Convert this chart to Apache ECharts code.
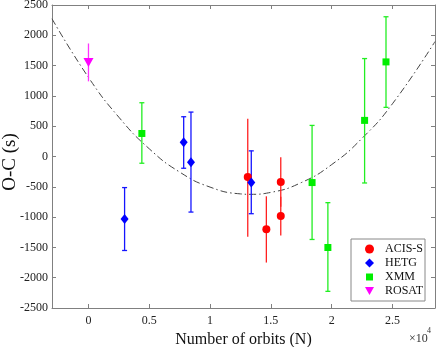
<!DOCTYPE html>
<html><head><meta charset="utf-8">
<script src="https://cdn.jsdelivr.net/npm/echarts@6/dist/echarts.min.js"></script>
<style>html,body{margin:0;padding:0;background:#fff}#c{width:436px;height:347px}</style>
</head><body><div id="c"></div>
<script>
// ---- data ----
const acisX  = [13100, 14630, 15815, 15815];
const acisY  = [-338, -1199, -420, -983];
const acisLo = [-1325, -1750, -828, -1303];
const acisHi = [622, -657, -12, -663];

const hetgX  = [2970, 7830, 8430, 13390];
const hetgY  = [-1033, 237, -94, -430];
const hetgLo = [-1551, -194, -917, -944];
const hetgHi = [-513, 656, 733, 93];

const xmmX  = [4390, 18390, 19690, 22710, 24470];
const xmmY  = [380, -430, -1502, 596, 1561];
const xmmLo = [-111, -1369, -2225, -437, 811];
const xmmHi = [887, 513, -762, 1616, 2306];

const rosatX  = [0];
const rosatY  = [1550];
const rosatLo = [1240];
const rosatHi = [1865];

// dash-dot fit curve
const fitX = [-3000, 0, 2500, 5000, 7500, 10000, 12500, 13300, 15000, 17500, 20000, 22500, 25000, 28500];
const fitY = [2273, 1305, 648, 127, -257, -505, -617, -624, -592, -431, -134, 300, 870, 1897];

const xTickValues = [0, 5000, 10000, 15000, 20000, 25000];
const xTickLabels = ['0', '0.5', '1', '1.5', '2', '2.5'];
const yTickLabels = ['-2500','-2000','-1500','-1000','-500','0','500','1000','1500','2000','2500'];

const FONT = 'Liberation Serif';
const AX = '#808080';

function zip(xs, ys){ return xs.map((x,i)=>[x, ys[i]]); }
function bars(xs, ys, lo, hi){ return xs.map((x,i)=>[x, ys[i], lo[i], hi[i]]); }

function errSeries(name, data, color, cap){
  return {
    type: 'custom', name: name + '_err', silent: true, z: 3,
    data: data,
    renderItem: function(params, api){
      const x = api.value(0), lo = api.value(2), hi = api.value(3);
      const p1 = api.coord([x, hi]), p2 = api.coord([x, lo]);
      const st = {stroke: color, lineWidth: 1.3};
      const ch = [{type:'line', shape:{x1:p1[0], y1:p1[1], x2:p2[0], y2:p2[1]}, style: st}];
      if (cap) {
        ch.push({type:'line', shape:{x1:p1[0]-cap, y1:p1[1], x2:p1[0]+cap, y2:p1[1]}, style: st});
        ch.push({type:'line', shape:{x1:p2[0]-cap, y1:p2[1], x2:p2[0]+cap, y2:p2[1]}, style: st});
      }
      return {type:'group', children: ch};
    }
  };
}

const invTri = 'path://M0,0 L10,0 L5,9 Z';

const chart = echarts.init(document.getElementById('c'), null, {renderer: 'canvas'});
const xBase = {
  type: 'value', min: -3000, max: 28500,
  axisLine: {show: true, onZero: false, lineStyle: {color: AX, width: 1}},
  splitLine: {show: false},
  axisTick: {show: true, inside: true, length: 4, lineStyle: {color: AX}, customValues: xTickValues},
};
const yBase = {
  type: 'value', min: -2500, max: 2500, interval: 500,
  axisLine: {show: true, onZero: false, lineStyle: {color: AX, width: 1}},
  splitLine: {show: false},
  axisTick: {show: true, inside: true, length: 4, lineStyle: {color: AX}},
};

chart.setOption({
  animation: false,
  backgroundColor: '#fff',
  textStyle: {fontFamily: FONT},
  grid: {left: 52, right: 1, top: 5, bottom: 39, containLabel: false, outerBoundsMode: 'none'},
  xAxis: [
    Object.assign({}, xBase, {
      position: 'bottom',
      axisLabel: {show: true, customValues: xTickValues, margin: 7, color: '#222', fontFamily: FONT, fontSize: 12,
        formatter: v => xTickLabels[xTickValues.indexOf(v)]},
      name: 'Number of orbits (N)', nameLocation: 'middle', nameGap: 20,
      nameTextStyle: {fontFamily: FONT, fontSize: 16, color: '#111'}
    }),
    Object.assign({}, xBase, {position: 'top', axisLabel: {show: false}})
  ],
  yAxis: [
    Object.assign({}, yBase, {
      position: 'left',
      axisLabel: {show: true, margin: 4, color: '#222', fontFamily: FONT, fontSize: 12,
        formatter: v => yTickLabels[Math.round((v + 2500) / 500)]}
    }),
    Object.assign({}, yBase, {position: 'right', axisLabel: {show: false}})
  ],
  legend: {
    show: true, orient: 'vertical', left: 351, top: 239,
    padding: [3, 2, 3, 14], itemGap: 0, itemWidth: 9, itemHeight: 9,
    borderColor: '#888', borderWidth: 1, backgroundColor: '#fff',
    textStyle: {fontFamily: FONT, fontSize: 12, color: '#111', lineHeight: 14, padding: [0,0,0,6]},
    data: [
      {name: 'ACIS-S', icon: 'circle'},
      {name: 'HETG', icon: 'diamond'},
      {name: 'XMM', icon: 'path://M0,0 M9,9 M1,1 L8,1 L8,8 L1,8 Z'},
      {name: 'ROSAT', icon: invTri}
    ]
  },
  series: [
    {type: 'line', name: 'fit', data: zip(fitX, fitY), smooth: true, showSymbol: false, symbol: 'none',
     lineStyle: {color: '#444', width: 1, type: [7, 3, 1.5, 3]}, z: 1, silent: true},
    errSeries('ACIS-S', bars(acisX, acisY, acisLo, acisHi), '#ff2020', 0),
    errSeries('HETG', bars(hetgX, hetgY, hetgLo, hetgHi), '#1515ff', 2.5),
    errSeries('XMM', bars(xmmX, xmmY, xmmLo, xmmHi), '#22ee22', 2.5),
    errSeries('ROSAT', bars(rosatX, rosatY, rosatLo, rosatHi), '#ff33ff', 0),
    {type: 'scatter', name: 'ACIS-S', data: zip(acisX, acisY), symbol: 'circle', symbolSize: 8,
     itemStyle: {color: '#ff0000', opacity: 1}, z: 5},
    {type: 'scatter', name: 'HETG', data: zip(hetgX, hetgY), symbol: 'diamond', symbolSize: [8, 10],
     itemStyle: {color: '#0000ff', opacity: 1}, z: 5},
    {type: 'scatter', name: 'XMM', data: zip(xmmX, xmmY), symbol: 'rect', symbolSize: 7,
     itemStyle: {color: '#00ee00', opacity: 1}, z: 5},
    {type: 'scatter', name: 'ROSAT', data: zip(rosatX, rosatY), symbol: invTri, symbolSize: [10, 9],
     itemStyle: {color: '#ff00ff', opacity: 1}, z: 5}
  ],
  graphic: [
    {type: 'text', x: 10, y: 162, rotation: Math.PI / 2,
     style: {text: 'O-C (s)', fontFamily: FONT, fontSize: 19, fill: '#111', align: 'center', verticalAlign: 'middle'}},
    {type: 'text', left: 409, top: 333, style: {text: '×10', fontFamily: FONT, fontSize: 12, fill: '#333'}},
    {type: 'text', left: 427, top: 327, style: {text: '4', fontFamily: FONT, fontSize: 8, fill: '#333'}}
  ]
});
</script></body></html>
